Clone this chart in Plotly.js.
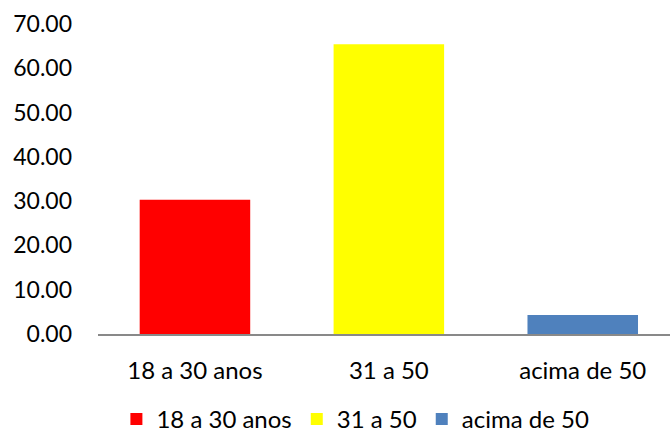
<!DOCTYPE html>
<html>
<head>
<meta charset="utf-8">
<script src="https://cdn.plot.ly/plotly-3.0.1.min.js"></script>
<style>html,body{margin:0;padding:0;background:#fff;}#chart{width:670px;height:435px;}</style>
</head>
<body>
<div id="chart"></div>
<script>
const categories = ["18 a 30 anos", "31 a 50", "acima de 50"];
const values = [30.3, 65.4, 4.3];
const colors = ["#FF0000", "#FFFF00", "#4F81BD"];
const yTicks = [0, 10, 20, 30, 40, 50, 60, 70];
const yTickLabels = ["0.00", "10.00", "20.00", "30.00", "40.00", "50.00", "60.00", "70.00"];

const fam = "Lato, 'Open Sans', sans-serif";

const traces = categories.map((c, i) => ({
  type: "bar",
  name: c,
  x: [c],
  y: [values[i]],
  marker: {color: colors[i]},
  width: 0.57,
  hoverinfo: "x+y"
}));

const layout = {
  width: 670, height: 435,
  margin: {l: 98, r: 0, t: 24, b: 101, pad: 0, autoexpand: false},
  paper_bgcolor: "#fff", plot_bgcolor: "#fff",
  font: {family: fam, size: 23, color: "#000"},
  barmode: "overlay",
  showlegend: true,
  legend: {orientation: "h", xref: "paper", x: 0.45, xanchor: "center",
           yref: "container", y: 0.036, yanchor: "middle",
           font: {family: fam, size: 24, color: "#000"}, itemwidth: 20, traceorder: "normal"},
  xaxis: {type: "category", categoryarray: categories, range: [-0.5, 2.45],
          showline: true, linecolor: "#898989", linewidth: 2, showgrid: false, zeroline: false,
          ticks: "", ticklabelstandoff: 14, tickfont: {family: fam, size: 24, color: "#000"}},
  yaxis: {range: [0, 70], tickvals: yTicks, ticktext: yTickLabels, showgrid: false, zeroline: false,
          showline: false, ticks: "", ticklabelstandoff: 25, tickfont: {family: fam, size: 23, color: "#000"}}
};

Plotly.newPlot("chart", traces, layout, {displayModeBar: false, staticPlot: true});
</script>
</body>
</html>
